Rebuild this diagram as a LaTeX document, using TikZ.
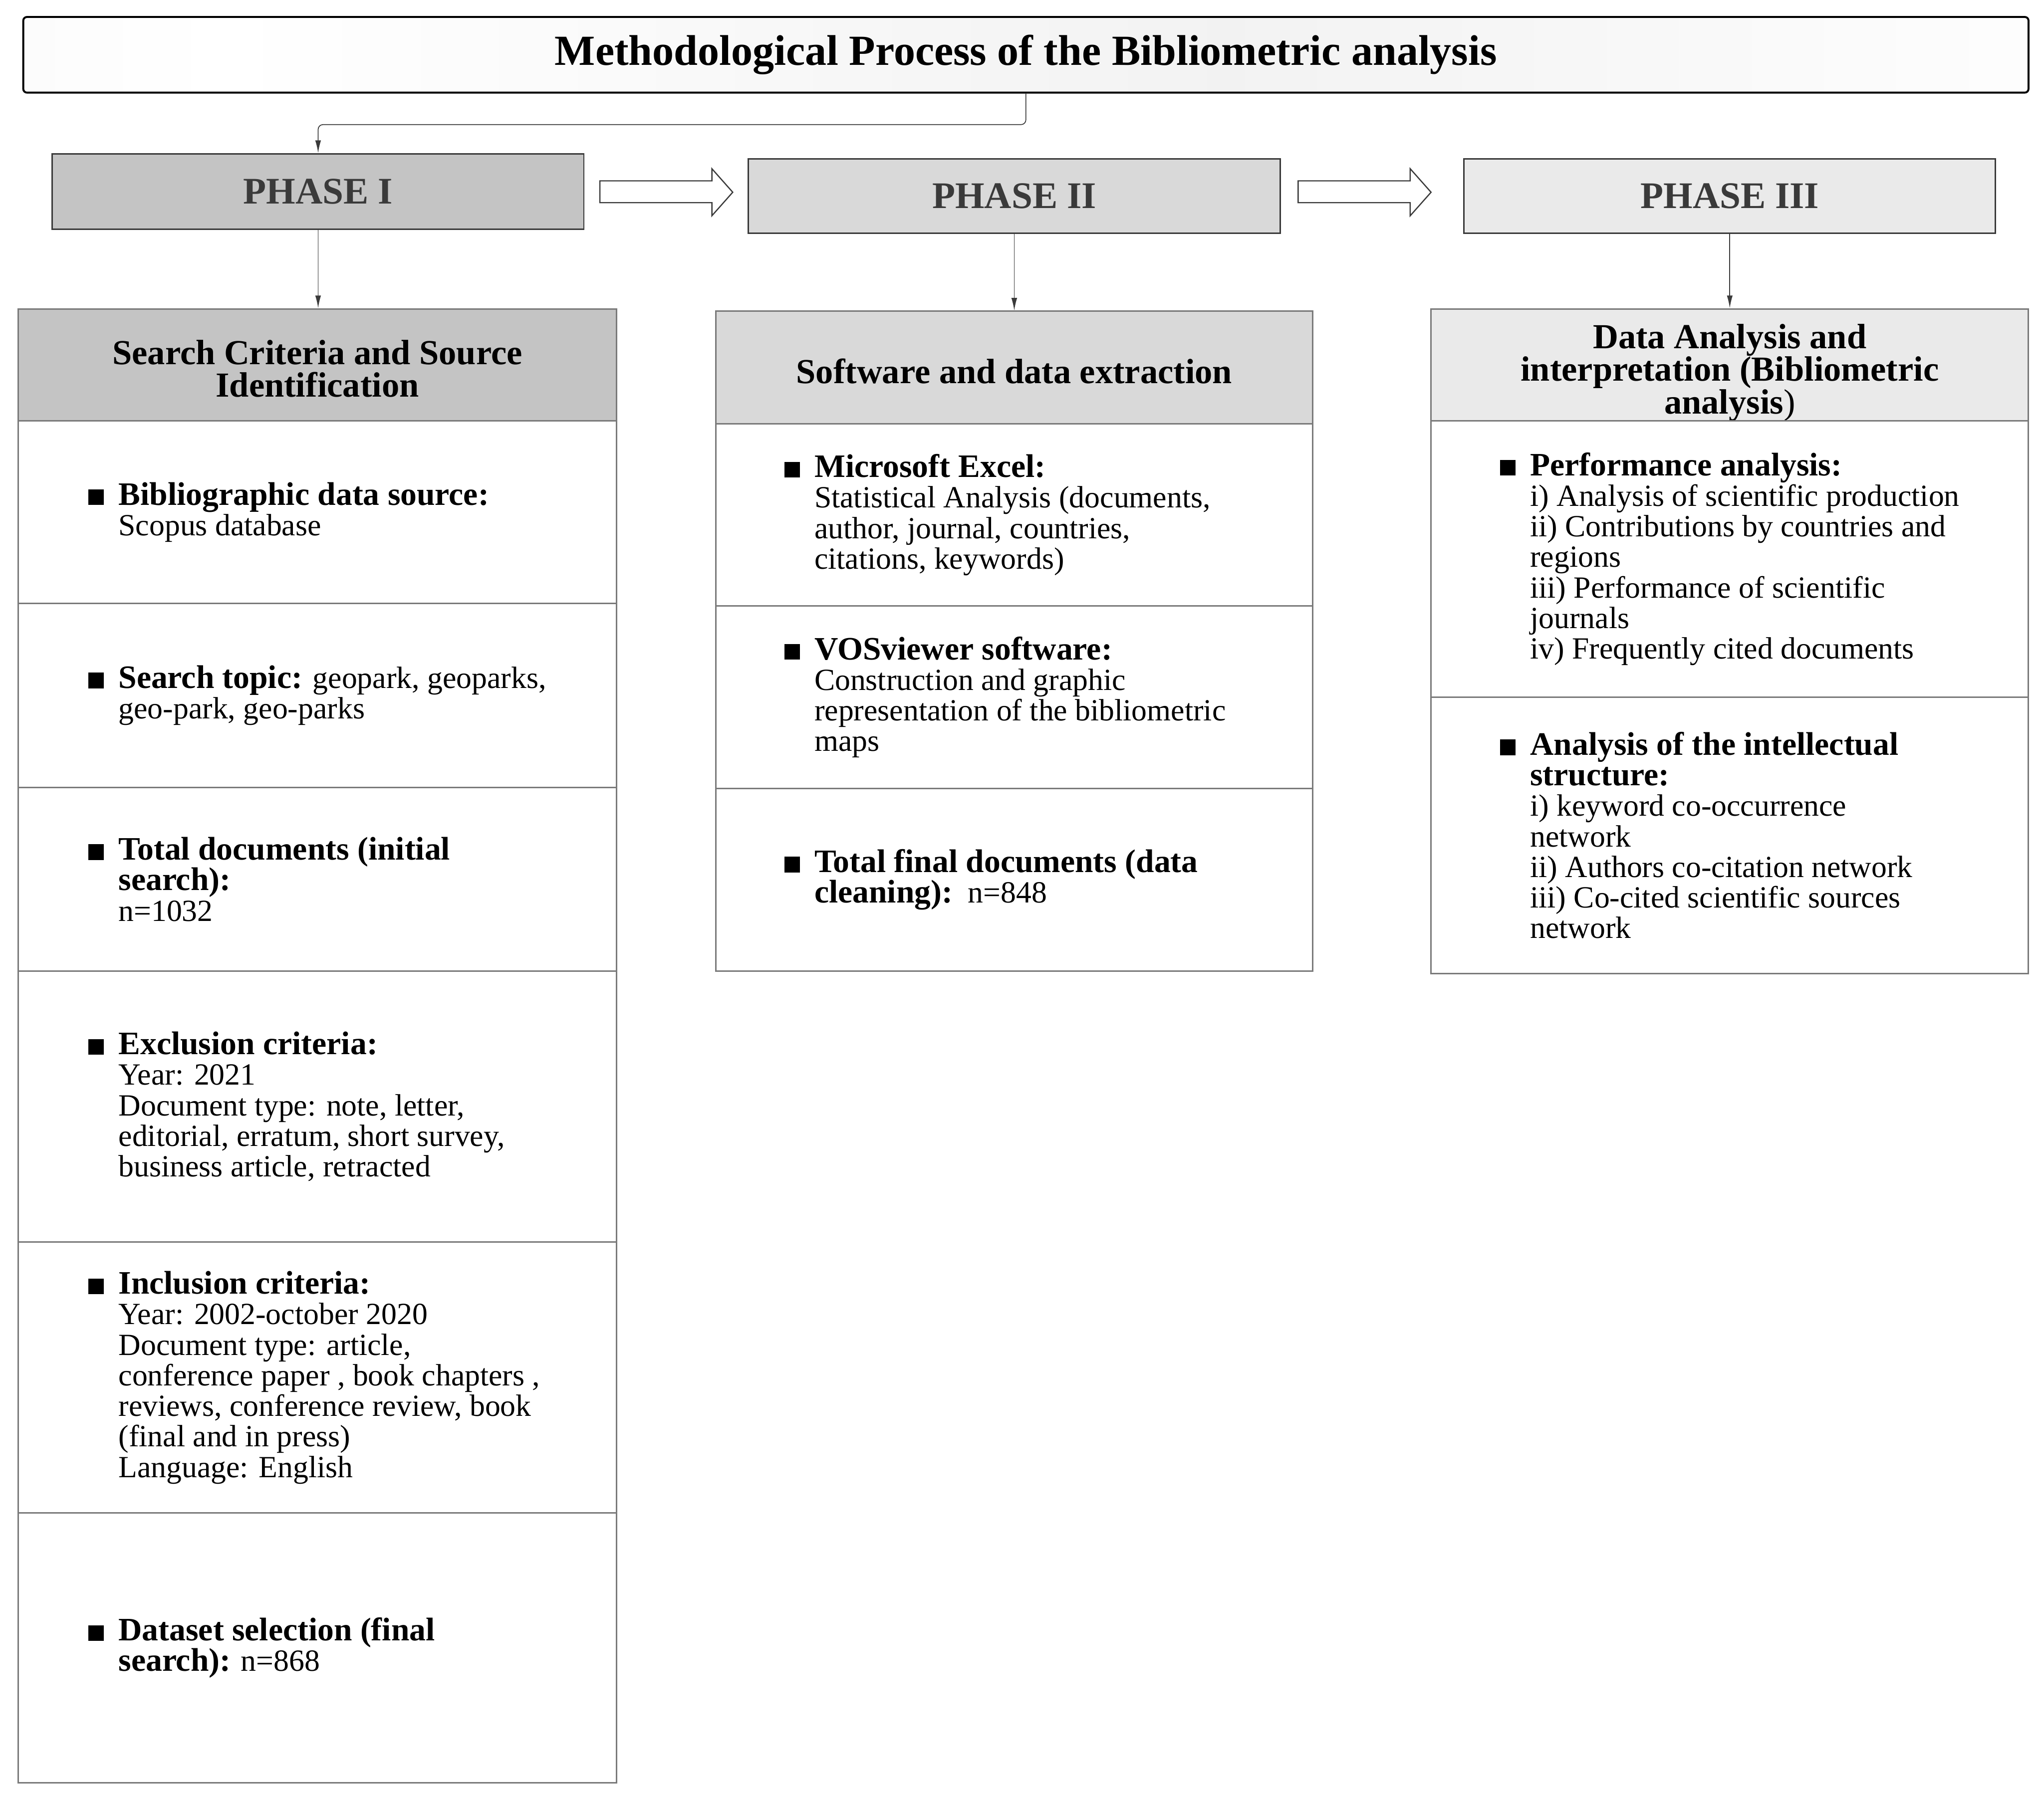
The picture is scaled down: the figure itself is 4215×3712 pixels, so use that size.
\documentclass[tikz,border=0pt]{standalone}
\usepackage{fontspec}
\setmainfont{Liberation Serif}
\usetikzlibrary{arrows.meta,calc}
\definecolor{phA}{HTML}{C4C4C4}
\definecolor{phB}{HTML}{D9D9D9}
\definecolor{phC}{HTML}{EAEAEA}
\definecolor{lineg}{HTML}{7A7A7A}
\definecolor{darkg}{HTML}{3A3A3A}
\pgfdeclarehorizontalshading{titleshade}{100bp}{color(0bp)=(gray!14); color(30bp)=(white); color(55bp)=(gray!10); color(78bp)=(white); color(100bp)=(gray!16)}
\newcommand\bul{\llap{\rule{6.4pt}{6.4pt}\hspace{6pt}}}
\newcommand\bt[1]{{\fontsize{13.5pt}{12.6pt}\selectfont\bfseries #1}}
\begin{document}
\begin{tikzpicture}[x=0.2pt,y=-0.2pt,
  titlebox/.style={draw=black, line width=0.8pt, rounded corners=1.5pt, shading=titleshade, inner sep=0pt,
    font=\fontsize{17.7pt}{19pt}\selectfont\bfseries},
  phasebox/.style={draw=darkg, line width=0.6pt, inner sep=0pt, text=darkg,
    font=\fontsize{15.5pt}{17pt}\selectfont\bfseries},
  headbox/.style={draw=lineg, line width=0.6pt, inner sep=0pt},
  headtxt/.style={inner sep=0pt, align=center, font=\fontsize{14.5pt}{13.5pt}\selectfont\bfseries},
  cellbox/.style={draw=lineg, line width=0.6pt, fill=white, inner sep=0pt},
  txt/.style={anchor=west, inner sep=0pt, align=left, font=\fontsize{12.7pt}{12.6pt}\selectfont},
  conn/.style={draw=darkg, line width=0.35pt, -{Latex[length=5.2pt,width=2.4pt]}},
  blockarrow/.style={draw=darkg, line width=0.5pt, fill=white, line join=miter}
]
\useasboundingbox (0,0) rectangle (4215,3712);

% title
\node[titlebox, minimum width={4135*0.2pt}, minimum height={156*0.2pt}] (title) at (2115.5,113)
  {Methodological Process of the Bibliometric analysis};

% phases
\node[phasebox, fill=phA, minimum width={1096*0.2pt}, minimum height={156*0.2pt}] (p1) at (656,395) {PHASE I};
\node[phasebox, fill=phB, minimum width={1097*0.2pt}, minimum height={153*0.2pt}] (p2) at (2091.5,404.5) {PHASE II};
\node[phasebox, fill=phC, minimum width={1096*0.2pt}, minimum height={153*0.2pt}] (p3) at (3567,404.5) {PHASE III};

% block arrows
\draw[blockarrow] (1237,373) -- (1468,373) -- (1468,348) -- (1511,396.5) -- (1468,445) -- (1468,418) -- (1237,418) -- cycle;
\draw[blockarrow] (2677,373) -- (2908,373) -- (2908,348) -- (2951,396.5) -- (2908,445) -- (2908,418) -- (2677,418) -- cycle;

% panel headers
\node[headbox, fill=phA, minimum width={1233*0.2pt}, minimum height={231*0.2pt}] (h1) at (654.5,752.5) {};
\node[headbox, fill=phB, minimum width={1231*0.2pt}, minimum height={232*0.2pt}] (h2) at (2091.5,758) {};
\node[headbox, fill=phC, minimum width={1232*0.2pt}, minimum height={231*0.2pt}] (h3) at (3567,752.5) {};
\node[headtxt] (h1t) at ([yshift=-1.6pt]h1.center) {Search Criteria and Source\\Identification};
\node[headtxt] (h2t) at ([yshift=-1.6pt]h2.center) {Software and data extraction};
\node[headtxt] (h3t) at ([yshift=-3.2pt]h3.center) {Data Analysis and\\interpretation (Bibliometric\\analysis\textmd{)}};

% panel I cells
\node[cellbox, minimum width={1233*0.2pt}, minimum height={377*0.2pt}] (c11) at (654.5,1056.5) {};
\node[cellbox, minimum width={1233*0.2pt}, minimum height={379*0.2pt}] (c12) at (654.5,1434.5) {};
\node[cellbox, minimum width={1233*0.2pt}, minimum height={379*0.2pt}] (c13) at (654.5,1813.5) {};
\node[cellbox, minimum width={1233*0.2pt}, minimum height={559*0.2pt}] (c14) at (654.5,2282.5) {};
\node[cellbox, minimum width={1233*0.2pt}, minimum height={559*0.2pt}] (c15) at (654.5,2841.5) {};
\node[cellbox, minimum width={1233*0.2pt}, minimum height={556*0.2pt}] (c16) at (654.5,3399) {};

% panel II cells
\node[cellbox, minimum width={1231*0.2pt}, minimum height={376*0.2pt}] (c21) at (2091.5,1062) {};
\node[cellbox, minimum width={1231*0.2pt}, minimum height={376*0.2pt}] (c22) at (2091.5,1438) {};
\node[cellbox, minimum width={1231*0.2pt}, minimum height={377*0.2pt}] (c23) at (2091.5,1814.5) {};

% panel III cells
\node[cellbox, minimum width={1232*0.2pt}, minimum height={570*0.2pt}] (c31) at (3567,1153) {};
\node[cellbox, minimum width={1232*0.2pt}, minimum height={570*0.2pt}] (c32) at (3567,1723) {};

% texts panel I
\node[txt] (t11) at ([xshift=41.4pt]c11.west) {\bul\bt{Bibliographic data source:}\\Scopus database};
\node[txt] (t12) at ([xshift=41.4pt]c12.west) {\bul\bt{Search topic:} geopark, geoparks,\\geo-park, geo-parks};
\node[txt] (t13) at ([xshift=41.4pt]c13.west) {\bul\bt{Total documents (initial}\\\bt{search):}\\n=1032};
\node[txt] (t14) at ([xshift=41.4pt]c14.west) {\bul\bt{Exclusion criteria:}\\Year: 2021\\Document type: note, letter,\\editorial, erratum, short survey,\\business article, retracted};
\node[txt] (t15) at ([xshift=41.4pt]c15.west) {\bul\bt{Inclusion criteria:}\\Year: 2002-october 2020\\Document type: article,\\conference paper , book chapters ,\\reviews, conference review, book\\(final and in press)\\Language: English};
\node[txt] (t16) at ([xshift=41.4pt]c16.west) {\bul\bt{Dataset selection (final}\\\bt{search):} n=868};

% texts panel II
\node[txt] (t21) at ([xshift=40.8pt]c21.west) {\bul\bt{Microsoft Excel:}\\Statistical Analysis (documents,\\author, journal, countries,\\citations, keywords)};
\node[txt] (t22) at ([xshift=40.8pt]c22.west) {\bul\bt{VOSviewer software:}\\Construction and graphic\\representation of the bibliometric\\maps};
\node[txt] (t23) at ([xshift=40.8pt]c23.west) {\bul\bt{Total final documents (data}\\\bt{cleaning):}\ \ n=848};

% texts panel III
\node[txt] (t31) at ([xshift=41pt]c31.west) {\bul\bt{Performance analysis:}\\i) Analysis of scientific production\\ii) Contributions by countries and\\regions\\iii) Performance of scientific\\journals\\iv) Frequently cited documents};
\node[txt] (t32) at ([xshift=41pt]c32.west) {\bul\bt{Analysis of the intellectual}\\\bt{structure:}\\i) keyword co-occurrence\\network\\ii) Authors co-citation network\\iii) Co-cited scientific sources\\network};

% connectors
\draw[conn, rounded corners=2pt] (title.south) -- ++(0,64) -| (p1.north);
\draw[conn] (p1.south) -- (p1.south |- h1.north);
\draw[conn] (p2.south) -- (p2.south |- h2.north);
\draw[conn] (p3.south) -- (p3.south |- h3.north);
\end{tikzpicture}
\end{document}
